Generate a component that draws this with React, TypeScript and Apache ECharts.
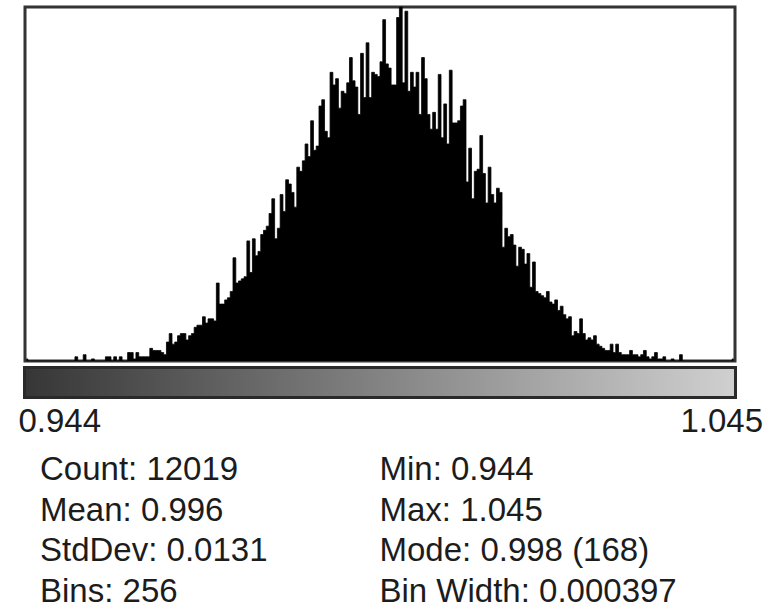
import React, { useEffect, useRef } from "react";
import * as echarts from "echarts";

// Histogram of values between 0.944 and 1.045, 256 bins
const HIST_MIN = 0.944;
const BIN_WIDTH = 0.000397;
const MODE_COUNT = 168;

const counts = [
  1, 0, 0, 0, 0, 0, 0, 0, 0, 0, 0, 0, 0, 0, 0, 0,
  0, 0, 2, 0, 0, 3, 0, 0, 1, 0, 0, 0, 0, 2, 2, 0,
  2, 0, 2, 0, 0, 4, 4, 1, 4, 2, 2, 2, 2, 6, 5, 5,
  5, 4, 3, 9, 13, 8, 9, 12, 13, 13, 10, 12, 13, 16, 17, 17,
  21, 18, 20, 20, 19, 37, 27, 27, 29, 30, 33, 49, 37, 38, 39, 40,
  57, 42, 58, 50, 52, 60, 62, 64, 70, 77, 58, 63, 79, 71, 86, 84,
  80, 73, 92, 90, 95, 103, 97, 114, 100, 102, 121, 124, 109, 106, 137, 131,
  134, 120, 128, 127, 132, 144, 133, 130, 117, 146, 125, 151, 125, 137, 136, 135,
  142, 162, 141, 139, 131, 131, 163, 168, 132, 166, 128, 137, 130, 137, 117, 144,
  134, 117, 110, 118, 110, 136, 106, 122, 103, 138, 113, 113, 114, 121, 124, 85,
  101, 77, 90, 91, 107, 89, 75, 92, 79, 75, 82, 80, 54, 63, 59, 60,
  55, 45, 54, 53, 46, 51, 35, 47, 33, 32, 31, 30, 33, 28, 27, 29,
  24, 26, 22, 20, 21, 12, 14, 13, 20, 13, 10, 11, 10, 12, 8, 7,
  6, 5, 5, 8, 4, 8, 4, 3, 3, 3, 5, 3, 3, 2, 3, 5,
  2, 1, 2, 4, 1, 1, 2, 0, 0, 1, 0, 0, 3, 0, 0, 0,
  0, 0, 0, 0, 0, 0, 0, 0, 0, 0, 0, 0, 0, 0, 0, 1,
];

// Lower edge of each bin
const binStarts = counts.map((_, i) => (HIST_MIN + i * BIN_WIDTH).toFixed(6));

const rangeLabels = ["0.944", "1.045"];
const statsLeft = ["Count: 12019", "Mean: 0.996", "StdDev: 0.0131", "Bins: 256"];
const statsRight = ["Min: 0.944", "Max: 1.045", "Mode: 0.998 (168)", "Bin Width: 0.000397"];

const FONT = "33px 'Liberation Sans', Arial, sans-serif";
const TEXT_COLOR = "#1c1c1c";
const ROW_Y = [468.5, 509, 549.5, 590];

export default function App() {
  const ref = useRef<HTMLDivElement>(null);

  useEffect(() => {
    if (!ref.current) return;
    const chart = echarts.init(ref.current, null, { renderer: "svg" });

    const statText = (lines: string[], x: number) =>
      lines.map((t, i) => ({
        type: "text",
        x,
        y: ROW_Y[i],
        style: { text: t, font: FONT, fill: TEXT_COLOR, align: "left", verticalAlign: "middle" },
      }));

    chart.setOption({
      animation: false,
      backgroundColor: "#ffffff",
      grid: {
        left: 25,
        right: 38,
        top: 7,
        bottom: 246,
        show: true,
        borderColor: "#333333",
        borderWidth: 3,
        backgroundColor: "transparent",
      },
      xAxis: { type: "category", data: binStarts, boundaryGap: true, show: false },
      yAxis: { type: "value", min: 0, max: MODE_COUNT, show: false },
      series: [
        {
          type: "line",
          data: counts,
          step: "middle",
          symbol: "none",
          silent: true,
          lineStyle: { color: "#000000", width: 0.8 },
          areaStyle: { color: "#000000", opacity: 1 },
        },
      ],
      graphic: [
        {
          type: "rect",
          shape: { x: 24.5, y: 367.5, width: 711, height: 30 },
          style: {
            fill: new echarts.graphic.LinearGradient(0, 0, 1, 0, [
              { offset: 0, color: "#363636" },
              { offset: 1, color: "#d0d0d0" },
            ]),
            stroke: "#2a2a2a",
            lineWidth: 3,
          },
        },
        {
          type: "text",
          x: 18.5,
          y: 420,
          style: { text: rangeLabels[0], font: FONT, fill: TEXT_COLOR, align: "left", verticalAlign: "middle" },
        },
        {
          type: "text",
          x: 763,
          y: 420,
          style: { text: rangeLabels[1], font: FONT, fill: TEXT_COLOR, align: "right", verticalAlign: "middle" },
        },
        ...statText(statsLeft, 40),
        ...statText(statsRight, 379.5),
      ],
    });

    return () => chart.dispose();
  }, []);

  return (
    <div
      ref={ref}
      style={{ position: "absolute", left: 0, top: 0, width: 773, height: 607 }}
    />
  );
}
